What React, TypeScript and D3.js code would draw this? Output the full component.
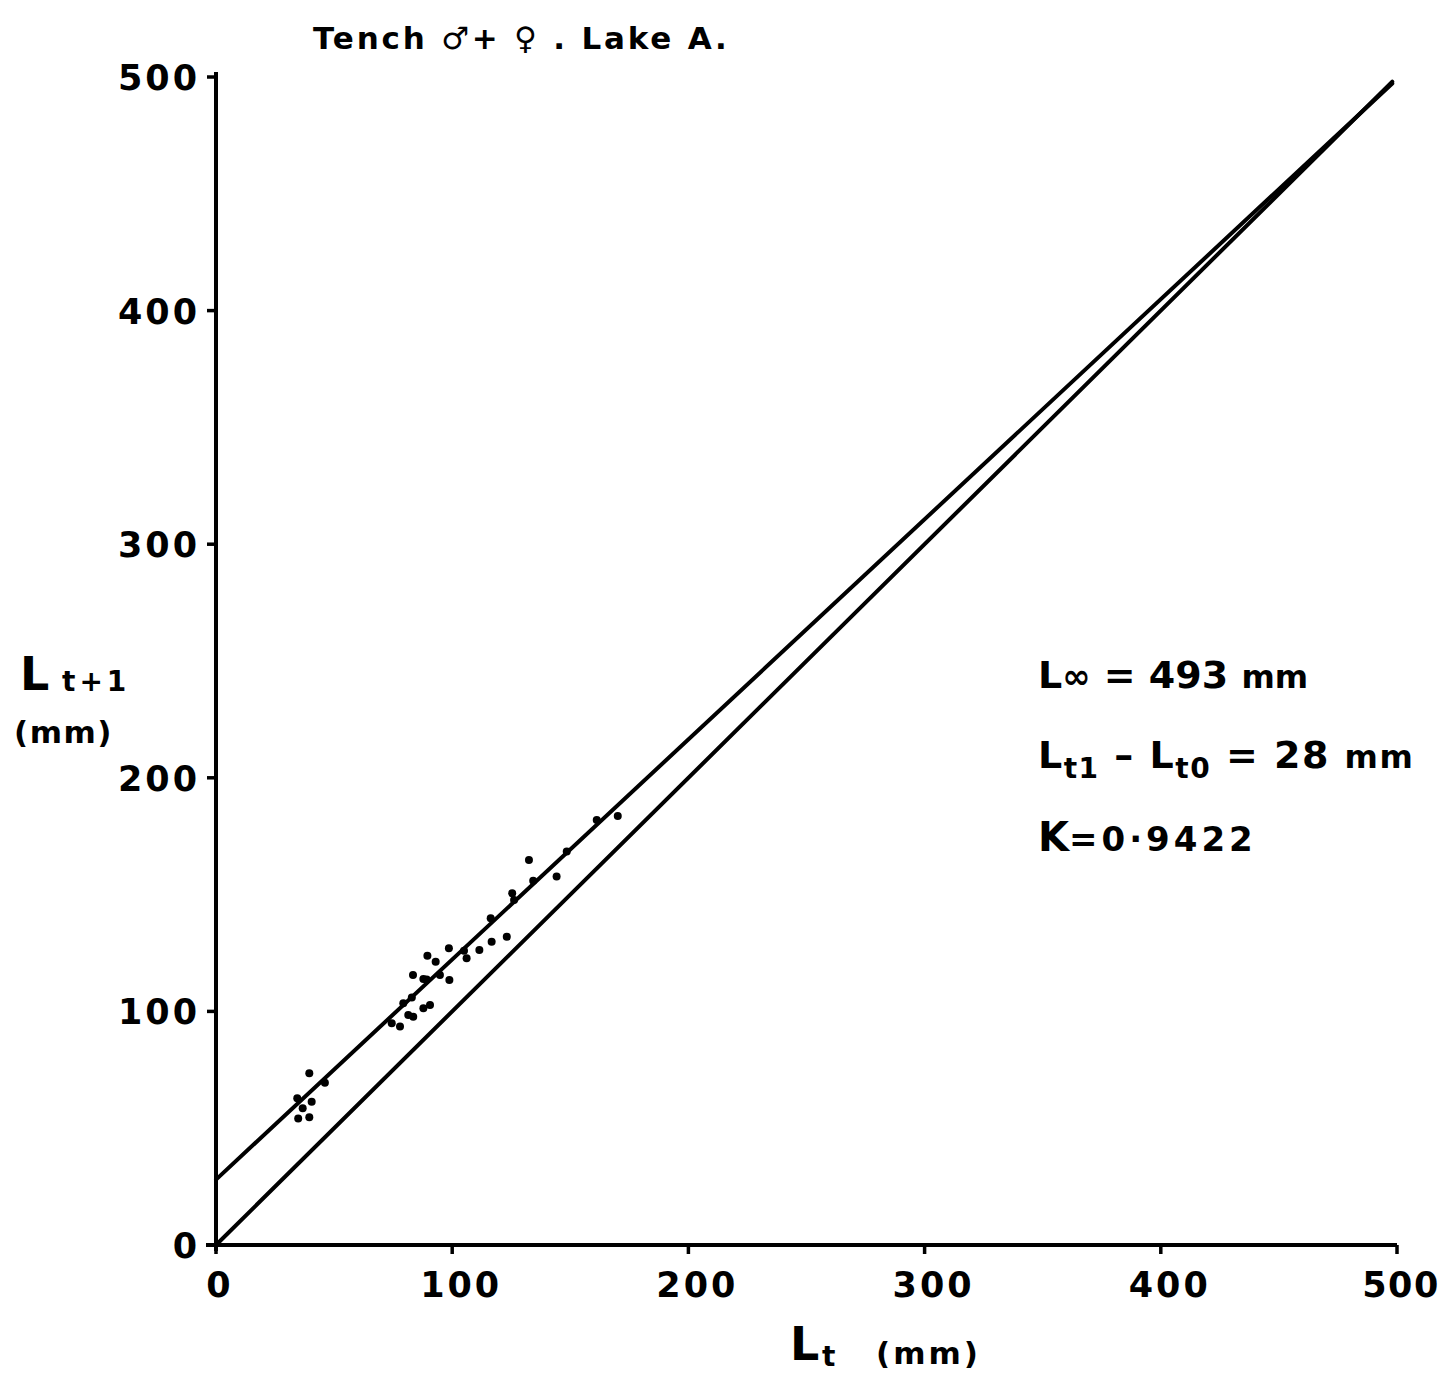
import React from "react";
import * as d3 from "d3";

// lengths (mm)
const ltValues = [34.4, 36.7, 34.8, 39.5, 39.5, 46.1, 40.5, 74.4, 77.9, 79.3, 82.9, 81.4, 83.5, 87.8, 90.6, 83.4, 87.8, 89.2, 94.8, 98.8, 89.5, 93.0, 98.6, 105.0, 106.1, 111.5, 116.7, 116.3, 123.1, 125.4, 126.2, 132.5, 134.3, 144.2, 148.5, 161.2, 170.1];
const lt1Values = [62.8, 58.5, 54.2, 54.7, 73.5, 69.5, 61.3, 94.9, 93.5, 103.5, 106.0, 98.5, 97.7, 101.3, 102.7, 115.6, 113.9, 113.7, 115.6, 113.4, 123.8, 121.3, 127.0, 126.0, 122.7, 126.3, 129.8, 139.9, 132.0, 150.6, 147.7, 164.8, 155.9, 157.7, 168.4, 181.9, 183.6];

const tickValues = [0, 100, 200, 300, 400, 500];
const intercept = 28;
const slope = 0.9422;
const lineEnd = 498;

const font = "'DejaVu Sans', sans-serif";

export default function App() {
  const x = d3.scaleLinear().domain([0, 500]).range([216, 1397]);
  const y = d3.scaleLinear().domain([0, 500]).range([1245, 77]);

  const line = d3.line<[number, number]>()
    .x((d) => x(d[0]))
    .y((d) => y(d[1]));

  const regression: [number, number][] = [[0, intercept], [lineEnd, intercept + slope * lineEnd]];
  const diagonal: [number, number][] = [[0, 0], [lineEnd, lineEnd]];

  const points = ltValues.map((v, i) => [v, lt1Values[i]] as [number, number]);

  // x tick labels sit a little right of their ticks in the original
  const xLabelShift = (t: number) => (t === 0 ? 4 : t === 500 ? 4 : 9);

  return (
    <svg width={1445} height={1375} style={{ display: "block", position: "absolute", left: 0, top: 0, background: "#fff" }}>
      <rect width={1445} height={1375} fill="#fff" />
      <g fontFamily={font} fontWeight="bold" fill="#000">
        {/* title */}
        <text x={313} y={49} fontSize={31} letterSpacing={2.8}>Tench ♂+ ♀ . Lake A.</text>

        {/* axes */}
        <line x1={x(0)} x2={x(0)} y1={y(500) - 5} y2={y(0) + 6} stroke="#000" strokeWidth={4} />
        <line x1={x(0) - 10} x2={x(500)} y1={y(0)} y2={y(0)} stroke="#000" strokeWidth={4} />
        {tickValues.map((t) => (
          <g key={"y" + t}>
            <line x1={x(0) - 9} x2={x(0)} y1={y(t)} y2={y(t)} stroke="#000" strokeWidth={3.5} />
            <text x={x(0) - 16} y={y(t) + 13} fontSize={35} textAnchor="end" letterSpacing={3}>{t}</text>
          </g>
        ))}
        {tickValues.map((t) => (
          <g key={"x" + t}>
            <line x1={x(t)} x2={x(t)} y1={y(0)} y2={y(0) + 9} stroke="#000" strokeWidth={3.5} />
            <text x={x(t) + xLabelShift(t)} y={1297} fontSize={35} textAnchor="middle" letterSpacing={t === 500 ? 1.5 : 3}>{t}</text>
          </g>
        ))}

        {/* lines */}
        <path d={line(regression) || ""} fill="none" stroke="#000" strokeWidth={4} strokeLinecap="round" />
        <path d={line(diagonal) || ""} fill="none" stroke="#000" strokeWidth={4} strokeLinecap="round" />

        {/* points */}
        {points.map((p, i) => (
          <circle key={i} cx={x(p[0])} cy={y(p[1])} r={4} fill="#000" />
        ))}

        {/* y label */}
        <text x={20} y={690} fontSize={46}>L</text>
        <text x={62} y={691} fontSize={28} letterSpacing={4}>t+1</text>
        <text x={14} y={743} fontSize={31} letterSpacing={1.5}>(mm)</text>

        {/* x label */}
        <text x={790} y={1360} fontSize={46}>L</text>
        <text x={822} y={1366} fontSize={28}>t</text>
        <text x={876} y={1364} fontSize={31} letterSpacing={3}>(mm)</text>

        {/* annotation */}
        <text x={1038} y={688} fontSize={38}>L<tspan fontSize={34}>∞</tspan> = 493 <tspan fontSize={32}>mm</tspan></text>
        <text x={1038} y={768} fontSize={38} letterSpacing={1.5}>L<tspan fontSize={28} dy={10}>t1</tspan><tspan dy={-10}> – L</tspan><tspan fontSize={28} dy={10}>t0</tspan><tspan dy={-10}> = 28 </tspan><tspan fontSize={32}>mm</tspan></text>
        <text x={1038} y={851} fontSize={40}>K<tspan fontSize={34} letterSpacing={4}>=0·9422</tspan></text>
      </g>
    </svg>
  );
}
